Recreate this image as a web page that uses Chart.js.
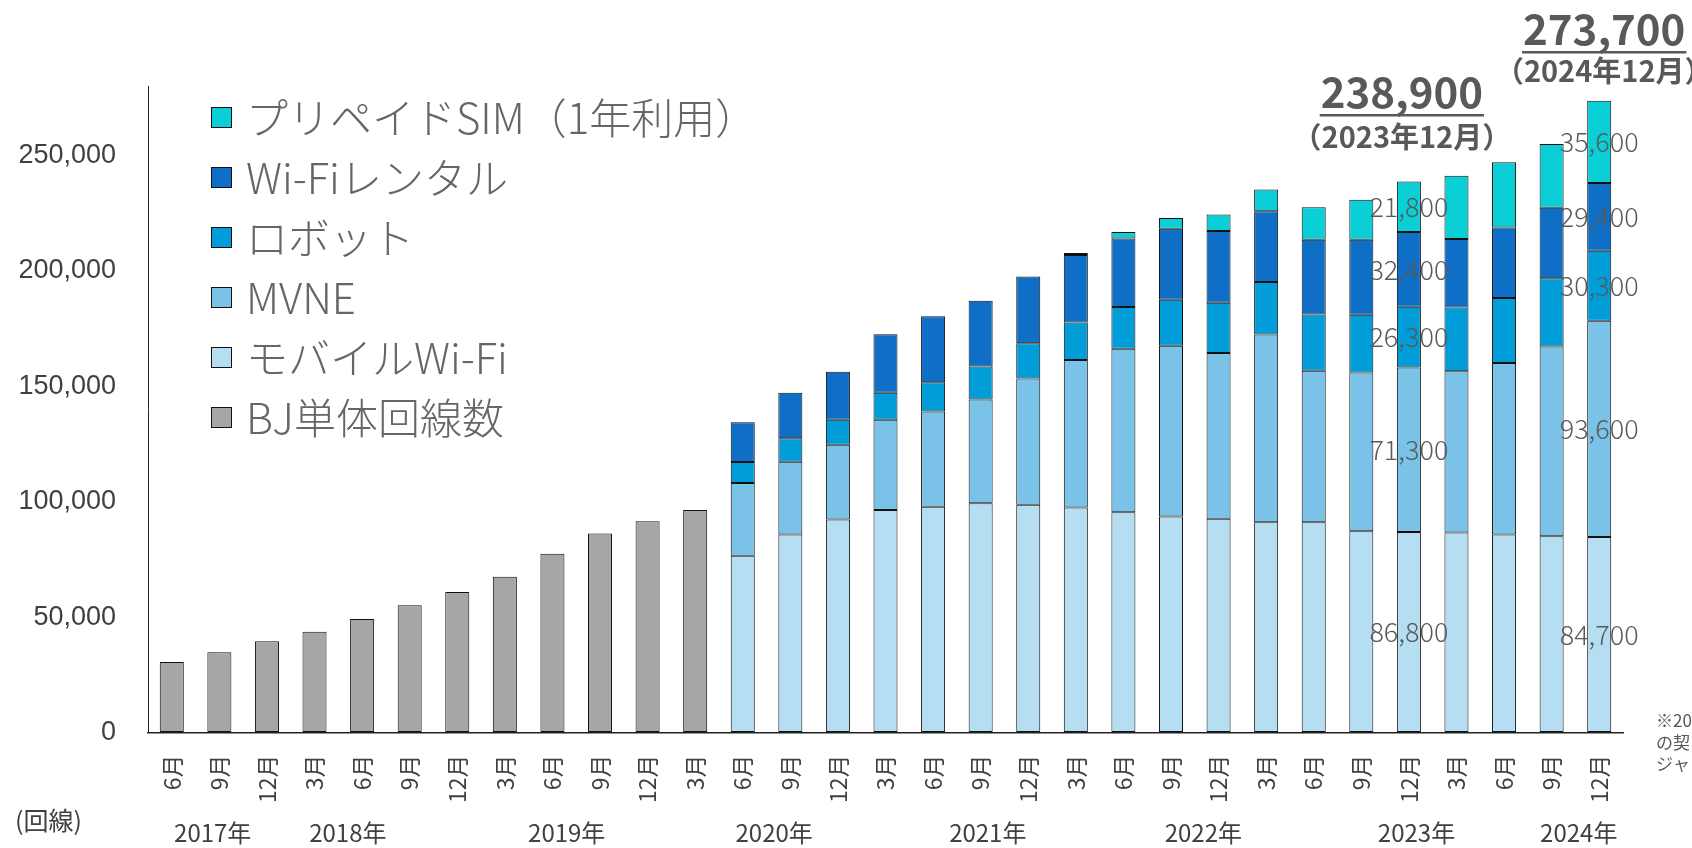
<!DOCTYPE html>
<html>
<head>
<meta charset="utf-8">
<script src="https://cdn.jsdelivr.net/npm/chart.js@4.4.1/dist/chart.umd.min.js"></script>
<style>
html,body{margin:0;padding:0;background:#fff;}
#wrap{width:1692px;height:848px;position:relative;overflow:hidden;}
</style>
</head>
<body>
<div id="wrap"><canvas id="c" width="1692" height="848"></canvas></div>
<script>
// ---- Data ----
const months = [
  '6月','9月','12月',
  '3月','6月','9月','12月',
  '3月','6月','9月','12月',
  '3月','6月','9月','12月',
  '3月','6月','9月','12月',
  '3月','6月','9月','12月',
  '3月','6月','9月','12月',
  '3月','6月','9月','12月'
];
const years = ['2017年','2018年','2019年','2020年','2021年','2022年','2023年','2024年'];
const yTicks = [0, 50000, 100000, 150000, 200000, 250000];

const bjLines = [30500,34800,39500,43600,49200,55100,60800,67500,77400,86200,91500,96400,
  null,null,null,null,null,null,null,null,null,null,null,null,null,null,null,null,null,null,null];
const mobileWifi = [null,null,null,null,null,null,null,null,null,null,null,null,
  76600,85700,92200,96400,97800,99300,98600,97400,95400,93500,92600,91100,91100,87200,86800,86600,85700,85000,84700];
const mvne = [null,null,null,null,null,null,null,null,null,null,null,null,
  31500,31600,32400,39000,41200,44900,54700,63900,70800,74000,71800,81300,65600,68700,71300,69900,74300,82200,93600];
const robot = [null,null,null,null,null,null,null,null,null,null,null,null,
  9000,10100,10900,11700,12700,14300,15300,16300,18100,19900,21700,22700,24300,25000,26300,27600,28200,29500,30300];
const wifiRental = [null,null,null,null,null,null,null,null,null,null,null,null,
  17300,19800,20700,25400,28600,28500,28900,29200,29600,30800,31100,30600,32400,32500,32400,29600,30500,30600,29400];
const prepaidSim = [null,null,null,null,null,null,null,null,null,null,null,null,
  null,null,null,null,null,null,null,900,2900,4600,7100,9500,14100,17300,21800,27400,28300,27600,35600];

const seriesNames = ['BJ単体回線数','モバイルWi-Fi','MVNE','ロボット','Wi-Fiレンタル','プリペイドSIM（1年利用）'];
const labelledBars = [26, 30];               // bars whose segments carry value labels
const totalTexts = ['238,900', '273,700'];
const totalDates = ['（2023年12月）', '（2024年12月）'];
const footnote = ['※20', 'の契', 'ジャ'];

// ---- Styles ----
const colors = ['#A6A6A6', '#B5DEF2', '#7AC2E8', '#009DD8', '#0F6FC6', '#0BCFD7'];
const TEXT = '#595959';
const JP = '"Noto Sans CJK JP", "Noto Sans", sans-serif';

const seriesData = [bjLines, mobileWifi, mvne, robot, wifiRental, prepaidSim];
const datasets = seriesData.map((d, i) => ({
  label: seriesNames[i],
  data: d,
  backgroundColor: colors[i],
  borderColor: '#111',
  borderWidth: 1,
  borderSkipped: false,
  stack: 's',
  categoryPercentage: 1.0,
  barPercentage: 0.505
}));

const overlay = {
  id: 'overlay',
  afterDatasetsDraw(chart) {
    const ctx = chart.ctx;
    ctx.save();
    ctx.font = '300 27px ' + JP;
    ctx.fillStyle = TEXT;
    ctx.textAlign = 'center';
    ctx.textBaseline = 'middle';
    labelledBars.forEach(j => {
      for (let i = 1; i < chart.data.datasets.length; i++) {
        const v = chart.data.datasets[i].data[j];
        if (v == null) continue;
        const el = chart.getDatasetMeta(i).data[j];
        ctx.fillText(v.toLocaleString('en-US'), el.x, (el.y + el.base) / 2);
      }
    });
    ctx.restore();
  },
  afterDraw(chart) {
    const ctx = chart.ctx;
    const xs = chart.scales.x;
    ctx.save();
    // legend (reverse order, top = last dataset)
    const ds = chart.data.datasets.slice().reverse();
    ds.forEach((d, k) => {
      const cy = 117 + k * 60;
      ctx.fillStyle = d.backgroundColor;
      ctx.fillRect(211, cy - 10, 21, 21);
      ctx.strokeStyle = '#111';
      ctx.lineWidth = 1;
      ctx.strokeRect(211.5, cy - 9.5, 20, 20);
      ctx.fillStyle = '#666';
      ctx.font = '300 42px ' + JP;
      ctx.textAlign = 'left';
      ctx.textBaseline = 'middle';
      ctx.fillText(d.label, 246, cy + 1);
    });

    // year labels under month ticks
    const yearPos = [0.86, 3.70, 8.3, 12.66, 17.15, 21.68, 26.16, 29.57];
    ctx.font = '24px ' + JP;
    ctx.fillStyle = '#404040';
    ctx.textAlign = 'center';
    ctx.textBaseline = 'middle';
    years.forEach((y, i) => ctx.fillText(y, xs.getPixelForValue(yearPos[i]), 833));

    // unit
    ctx.textAlign = 'left';
    ctx.font = '25px ' + JP;
    ctx.fillText('(回線)', 15, 820);

    // totals with underline
    const totalY = [108, 45];
    const dateY = [137, 71];
    labelledBars.forEach((j, k) => {
      const cx = chart.getDatasetMeta(5).data[j].x - (k === 0 ? 7 : -5);
      ctx.fillStyle = TEXT;
      ctx.font = 'bold 42px ' + JP;
      ctx.textAlign = 'center';
      ctx.textBaseline = 'alphabetic';
      ctx.fillText(totalTexts[k], cx, totalY[k]);
      const w = ctx.measureText(totalTexts[k]).width;
      ctx.fillRect(cx - w / 2 - 1, totalY[k] + 6, w + 2, 2.5);
      ctx.font = 'bold 29px ' + JP;
      ctx.textBaseline = 'middle';
      ctx.fillText(totalDates[k], cx, dateY[k]);
    });

    // footnote (cut at the right edge)
    ctx.font = '17px ' + JP;
    ctx.fillStyle = TEXT;
    ctx.textAlign = 'left';
    ctx.textBaseline = 'middle';
    footnote.forEach((t, i) => ctx.fillText(t, 1656, 721 + i * 21.5));
    ctx.restore();
  }
};

new Chart(document.getElementById('c'), {
  type: 'bar',
  data: { labels: months, datasets },
  options: {
    responsive: false,
    animation: false,
    events: [],
    layout: { padding: { left: 0, top: 86, right: 69, bottom: 0 } },
    plugins: { legend: { display: false }, tooltip: { enabled: false } },
    scales: {
      x: {
        stacked: true,
        grid: { display: true, drawOnChartArea: false, drawTicks: false },
        border: { display: true, color: '#222', width: 1.5 },
        ticks: {
          color: '#404040',
          font: { family: JP, size: 23 },
          minRotation: 90, maxRotation: 90,
          autoSkip: false,
          padding: 22
        },
        afterFit: s => { s.height = 115.5; }
      },
      y: {
        stacked: true,
        min: 0, max: 280000,
        grid: { display: true, drawOnChartArea: false, drawTicks: false },
        border: { display: true, color: '#222', width: 1 },
        afterBuildTicks: s => { s.ticks = yTicks.map(v => ({ value: v })); },
        ticks: {
          autoSkip: false,
          padding: 32,
          color: '#404040',
          font: { family: '"Liberation Sans", Arial, sans-serif', size: 27 },
          callback: v => Number(v).toLocaleString('en-US')
        },
        afterFit: s => { s.width = 148; }
      }
    }
  },
  plugins: [overlay]
});
</script>
</body>
</html>
